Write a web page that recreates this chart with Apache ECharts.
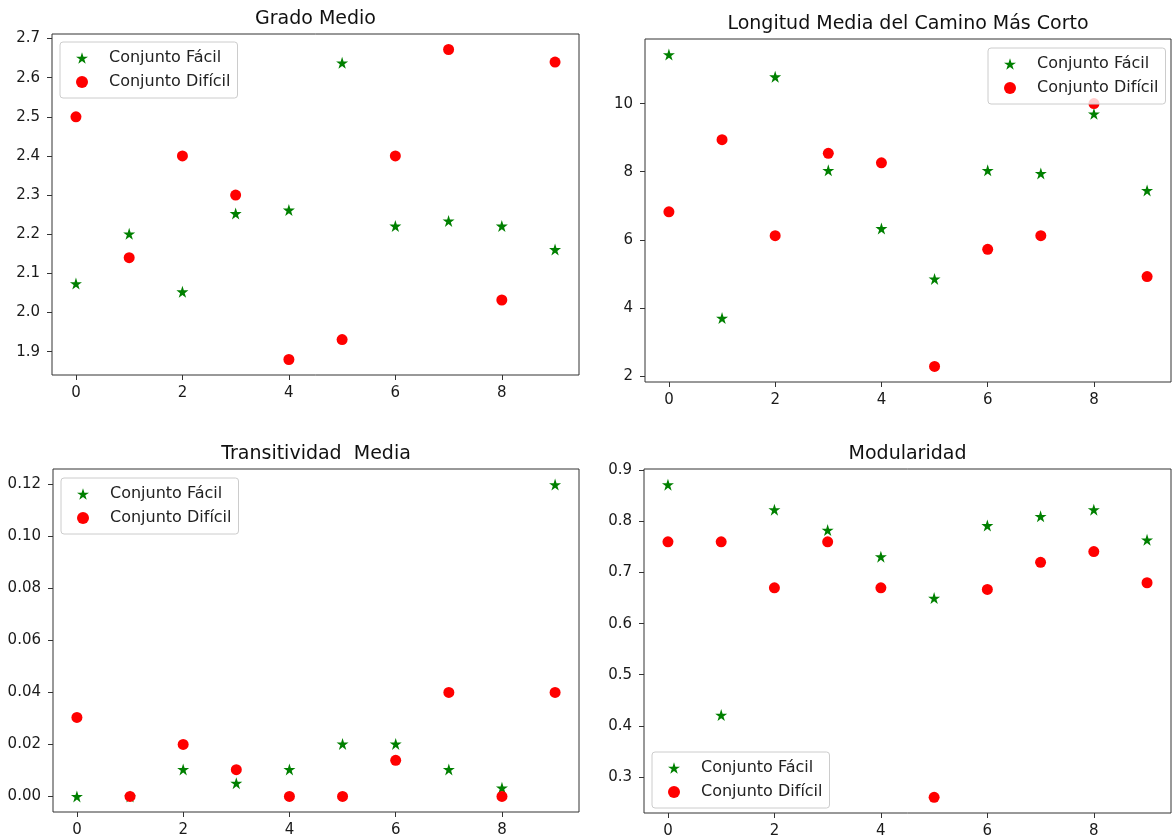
<!DOCTYPE html>
<html>
<head>
<meta charset="utf-8">
<script src="https://cdn.jsdelivr.net/npm/echarts@6/dist/echarts.min.js"></script>
<style>
html,body{margin:0;padding:0;background:#fff;}
#chart{width:1172px;height:839px;}
</style>
</head>
<body>
<div id="chart"></div>
<script>
// ---- data ----
const xIndex = [0, 1, 2, 3, 4, 5, 6, 7, 8, 9];
const xTicks = [0, 2, 4, 6, 8];

const seriesNames = ['Conjunto Fácil', 'Conjunto Difícil'];
const panelTitles = ['Grado Medio', 'Longitud Media del Camino Más Corto', 'Transitividad  Media', 'Modularidad'];

const gradoFacil   = [2.074, 2.201, 2.053, 2.253, 2.262, 2.638, 2.221, 2.234, 2.221, 2.161];
const gradoDificil = [2.500, 2.140, 2.400, 2.300, 1.880, 1.931, 2.400, 2.672, 2.032, 2.640];
const gradoTicks   = [1.9, 2.0, 2.1, 2.2, 2.3, 2.4, 2.5, 2.6, 2.7];

const longFacil    = [11.44, 3.70, 10.79, 8.04, 6.33, 4.85, 8.04, 7.95, 9.70, 7.45];
const longDificil  = [6.82, 8.94, 6.12, 8.54, 8.26, 2.28, 5.72, 6.12, 10.00, 4.92];
const longTicks    = [2, 4, 6, 8, 10];

const transFacil   = [0.000, 0.000, 0.0104, 0.0051, 0.0104, 0.0202, 0.0202, 0.0104, 0.0033, 0.120];
const transDificil = [0.0304, 0.000, 0.020, 0.0103, 0.000, 0.000, 0.0139, 0.040, 0.000, 0.040];
const transTicks   = [0.00, 0.02, 0.04, 0.06, 0.08, 0.10, 0.12];

const modFacil     = [0.872, 0.421, 0.823, 0.783, 0.731, 0.650, 0.792, 0.810, 0.823, 0.764];
const modDificil   = [0.760, 0.760, 0.670, 0.760, 0.670, 0.260, 0.667, 0.720, 0.741, 0.680];
const modTicks     = [0.3, 0.4, 0.5, 0.6, 0.7, 0.8, 0.9];

// ---- layout / style ----
const FONT = 'DejaVu Sans';
const STAR = 'path://M50,0 L61.2,34.5 L97.6,34.5 L68.2,55.9 L79.4,90.5 L50,69.1 L20.6,90.5 L31.8,55.9 L2.4,34.5 L38.8,34.5 Z';
const GREEN = '#008000', RED = '#ff0000';

const panels = [
  {facil: gradoFacil, dificil: gradoDificil, ticks: gradoTicks, dec: 1,
   grid: {left: 52, top: 34, width: 527, height: 341}, legend: {left: 60, top: 42}},
  {facil: longFacil, dificil: longDificil, ticks: longTicks, dec: 0,
   grid: {left: 645, top: 39, width: 526, height: 343}, legend: {left: 988, top: 48}},
  {facil: transFacil, dificil: transDificil, ticks: transTicks, dec: 2,
   grid: {left: 53, top: 469, width: 526, height: 343}, legend: {left: 61, top: 478}},
  {facil: modFacil, dificil: modDificil, ticks: modTicks, dec: 1,
   grid: {left: 644, top: 469, width: 527, height: 344}, legend: {left: 652, top: 752}}
];

function autoRange(a, b) {
  const all = a.concat(b);
  const lo = Math.min.apply(null, all), hi = Math.max.apply(null, all);
  const m = (hi - lo) * 0.05;
  return [lo - m, hi + m];
}
const xRange = autoRange(xIndex, []);

const option = {
  animation: false,
  backgroundColor: '#ffffff',
  title: [], grid: [], xAxis: [], yAxis: [], legend: [], series: []
};

panels.forEach(function (p, i) {
  const g = p.grid;
  option.grid.push({left: g.left, top: g.top, width: g.width, height: g.height,
    show: true, borderColor: '#333', borderWidth: 1, containLabel: false});
  option.title.push({
    text: panelTitles[i], left: g.left + g.width / 2, top: g.top - 24, textAlign: 'center', padding: 0,
    textStyle: {fontFamily: FONT, fontSize: 19, fontWeight: 'normal', color: '#111'}
  });
  option.xAxis.push({
    type: 'value', gridIndex: i, min: xRange[0], max: xRange[1], position: 'bottom',
    splitLine: {show: false}, axisLine: {show: false, onZero: false},
    axisTick: {show: true, length: 5, inside: false, customValues: xTicks, lineStyle: {color: '#333'}},
    axisLabel: {customValues: xTicks, margin: 11, fontFamily: FONT, fontSize: 15, color: '#1a1a1a',
      formatter: function (v) { return String(v); }}
  });
  const yr = autoRange(p.facil, p.dificil);
  option.yAxis.push({
    type: 'value', gridIndex: i, min: yr[0], max: yr[1], position: 'left',
    splitLine: {show: false}, axisLine: {show: false, onZero: false},
    axisTick: {show: true, length: 5, inside: false, customValues: p.ticks, lineStyle: {color: '#333'}},
    axisLabel: {customValues: p.ticks, margin: 12, fontFamily: FONT, fontSize: 15, color: '#1a1a1a',
      formatter: (function (d) { return function (v) { return v.toFixed(d); }; })(p.dec)}
  });
  option.legend.push({
    left: p.legend.left, top: p.legend.top, orient: 'vertical',
    itemWidth: 12, itemHeight: 12, itemGap: 8,
    padding: [8, 7, 8, 16],
    backgroundColor: 'rgba(255,255,255,0.8)', borderColor: '#cccccc', borderWidth: 1, borderRadius: 3,
    textStyle: {fontFamily: FONT, fontSize: 16, color: '#222', lineHeight: 16, padding: [0, 0, 0, 16]},
    data: [{name: seriesNames[0], icon: STAR}, {name: seriesNames[1], icon: 'circle'}],
    selectedMode: false, z: 10
  });
  option.series.push({
    type: 'scatter', name: seriesNames[0], xAxisIndex: i, yAxisIndex: i,
    symbol: STAR, symbolSize: 12, itemStyle: {color: GREEN, opacity: 1},
    data: xIndex.map(function (x, k) { return [x, p.facil[k]]; })
  });
  option.series.push({
    type: 'scatter', name: seriesNames[1], xAxisIndex: i, yAxisIndex: i,
    symbol: 'circle', symbolSize: 11, itemStyle: {color: RED, opacity: 1},
    data: xIndex.map(function (x, k) { return [x, p.dificil[k]]; })
  });
});

const chart = echarts.init(document.getElementById('chart'), null, {renderer: 'canvas'});
chart.setOption(option);
</script>
</body>
</html>
